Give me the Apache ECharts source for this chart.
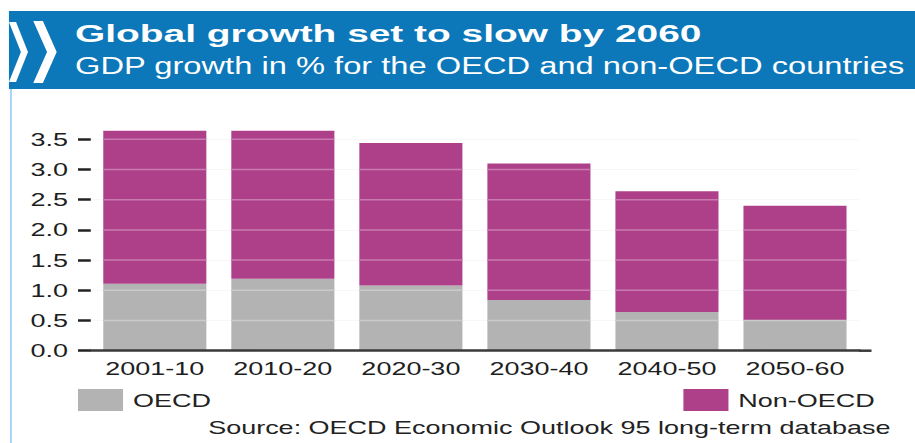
<!DOCTYPE html>
<html>
<head>
<meta charset="utf-8">
<script src="https://cdn.jsdelivr.net/npm/echarts/dist/echarts.min.js"></script>
<style>
  html, body { margin: 0; padding: 0; background: #ffffff; overflow: hidden; }
  #wrap { width: 644px; height: 443px; transform: scaleX(1.4208); transform-origin: 0 0; }
  #chart { width: 644px; height: 443px; }
</style>
</head>
<body>
<div id="wrap"><div id="chart"></div></div>
<script>
// ---- data ----
const categories = ['2001-10', '2010-20', '2020-30', '2030-40', '2040-50', '2050-60'];
const oecd      = [1.11, 1.19, 1.08, 0.84, 0.64, 0.51];
const nonOecd   = [2.53, 2.45, 2.36, 2.26, 2.00, 1.89];
const seriesNames = ['OECD', 'Non-OECD'];
const yTickValues = [0.5, 1.0, 1.5, 2.0, 2.5, 3.0, 3.5];
const yTicks = { min: 0, max: 3.5, interval: 0.5 };
const titleText = 'Global growth set to slow by 2060';
const subtitleText = 'GDP growth in % for the OECD and non-OECD countries';
const sourceText = 'Source: OECD Economic Outlook 95 long-term database';

// ---- chart ----
const FONT = '"Liberation Sans", Arial, sans-serif';
const BAR_RATIO = 0.805;
const chart = echarts.init(document.getElementById('chart'), null, { renderer: 'svg', width: 644, height: 443 });

function chevron(x0, t, x1, y0, ym, y1) {
  return [[x0, y0], [x0 + t, y0], [x1, ym], [x0 + t, y1], [x0, y1], [x1 - t, ym]];
}

chart.setOption({
  animation: false,
  backgroundColor: '#ffffff',
  textStyle: { fontFamily: FONT },
  grid: { left: 63.9, top: 139.3, width: 540.7, height: 211.4, containLabel: false },
  legend: [
    {
      data: [seriesNames[0]], left: 54.9, top: 389, padding: 0,
      itemWidth: 31.7, itemHeight: 22, icon: 'rect', selectedMode: false,
      textStyle: { fontSize: 19, color: '#222', fontFamily: FONT, padding: [0, 0, 0, 2] }
    },
    {
      data: [seriesNames[1]], left: 481, top: 389, padding: 0,
      itemWidth: 31.7, itemHeight: 22, icon: 'rect', selectedMode: false,
      textStyle: { fontSize: 19, color: '#222', fontFamily: FONT, padding: [0, 0, 0, 2] }
    }
  ],
  xAxis: {
    type: 'category',
    data: categories,
    z: 6,
    axisTick: { show: false },
    axisLine: { lineStyle: { color: '#3a3a3a', width: 2.5 } },
    axisLabel: { fontSize: 19, color: '#1e1e1e', margin: 8, fontFamily: FONT, interval: 0 }
  },
  yAxis: {
    type: 'value',
    min: yTicks.min, max: yTicks.max, interval: yTicks.interval,
    axisLine: { show: false },
    axisTick: { show: true, length: 9, lineStyle: { color: '#222', width: 2.5 } },
    axisLabel: { fontSize: 19, color: '#1e1e1e', margin: 16, fontFamily: FONT,
      formatter: v => v.toFixed(1) },
    splitLine: { show: true, lineStyle: { color: '#f7f7f7', width: 1.2 } }
  },
  series: [
    {
      name: seriesNames[0], type: 'bar', stack: 'total', data: oecd,
      barWidth: (BAR_RATIO * 100) + '%', clip: false,
      itemStyle: { color: '#B3B3B3' }
    },
    {
      name: seriesNames[1], type: 'bar', stack: 'total', data: nonOecd,
      barWidth: (BAR_RATIO * 100) + '%', clip: false,
      itemStyle: { color: '#AE408A' }
    },
    {
      name: 'gridlines', type: 'custom', silent: true, z: 5,
      data: categories.map((c, i) => [i, oecd[i], oecd[i] + nonOecd[i]]),
      encode: { x: 0, y: 2 },
      renderItem: function (params, api) {
        const i = api.value(0);
        const low = api.value(1);
        const total = api.value(2);
        const cx = api.coord([i, 0])[0];
        const bw = api.size([1, 0])[0] * BAR_RATIO;
        const children = [];
        yTickValues.forEach(v => {
          if (v >= total) return;
          const y = api.coord([i, v])[1];
          children.push({
            type: 'rect',
            shape: { x: cx - bw / 2, y: y - 0.75, width: bw, height: 1.5 },
            style: { fill: v < low ? '#CACACA' : '#C87BAE' }
          });
        });
        return { type: 'group', children: children };
      }
    }
  ],
  graphic: [
    { type: 'rect', shape: { x: 6.3, y: 11, width: 640, height: 78 }, style: { fill: '#0C77B9' }, z: 0 },
    { type: 'rect', shape: { x: 7.0, y: 89, width: 1.4, height: 360 }, style: { fill: '#A8D4F0' }, z: 0 },
    { type: 'polygon', shape: { points: chevron(6.3, 5.0, 19.7, 22, 52, 82) }, style: { fill: '#ffffff' }, z: 1 },
    { type: 'polygon', shape: { points: chevron(23.4, 6.8, 39.9, 21, 52, 83) }, style: { fill: '#ffffff' }, z: 1 },
    { type: 'text', x: 52.8, y: 34, scaleX: 1.19, z: 2,
      style: { text: titleText, fontSize: 23, fontWeight: 'bold', fontFamily: FONT, fill: '#ffffff', verticalAlign: 'middle', align: 'left' } },
    { type: 'text', x: 52.8, y: 66, z: 2,
      style: { text: subtitleText, fontSize: 23, fontFamily: FONT, fill: '#ffffff', verticalAlign: 'middle', align: 'left' } },
    { type: 'text', x: 146.5, y: 427, z: 2,
      style: { text: sourceText, fontSize: 19, fontFamily: FONT, fill: '#222', verticalAlign: 'middle', align: 'left' } },
    { type: 'line', shape: { x1: 604.5, y1: 350.7, x2: 613.4, y2: 350.7 }, style: { stroke: '#3a3a3a', lineWidth: 2.5 }, z: 2 }
  ]
});
</script>
</body>
</html>
